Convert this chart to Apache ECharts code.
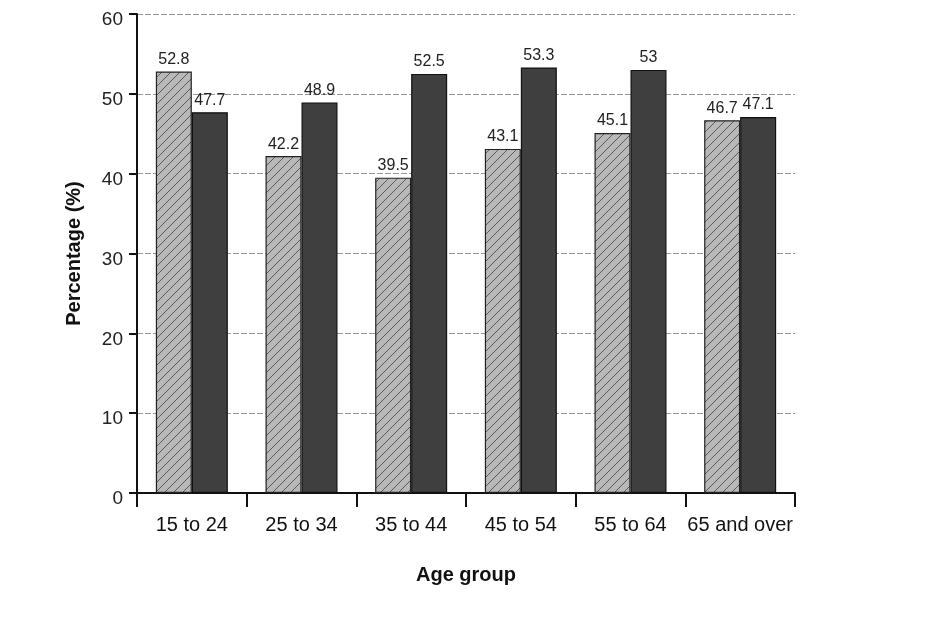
<!DOCTYPE html>
<html><head><meta charset="utf-8">
<script src="https://cdn.jsdelivr.net/npm/echarts@6/dist/echarts.min.js"></script>
<style>html,body{margin:0;padding:0;background:#fff}#c{width:930px;height:620px}</style>
</head><body><div id="c"></div>
<script>
const categories = ['15 to 24','25 to 34','35 to 44','45 to 54','55 to 64','65 and over'];
const seriesA = [52.8, 42.2, 39.5, 43.1, 45.1, 46.7];
const seriesB = [47.7, 48.9, 52.5, 53.3, 53, 47.1];

function hatch(){
  const c = document.createElement('canvas');
  c.width = 9; c.height = 9;
  const g = c.getContext('2d');
  g.fillStyle = '#b8b8b8'; g.fillRect(0,0,9,9);
  g.strokeStyle = '#5a5a5a'; g.lineWidth = 1;
  g.beginPath();
  g.moveTo(-1,10); g.lineTo(10,-1);
  g.moveTo(-6,5); g.lineTo(5,-6);
  g.moveTo(4,15); g.lineTo(15,4);
  g.stroke();
  return c;
}
const chart = echarts.init(document.getElementById('c'));
const font = 'Liberation Sans, Arial, sans-serif';
chart.setOption({
  animation:false,
  grid:{left:137,right:135,top:14,bottom:127},
  xAxis:{type:'category',data:categories,
    axisLine:{lineStyle:{color:'#111',width:2}},
    axisTick:{show:true,interval:0,alignWithLabel:false,length:14,inside:false,lineStyle:{color:'#111',width:2}},
    axisLabel:{interval:0,color:'#111',fontSize:20,fontFamily:font,margin:22},
    name:'Age group',nameLocation:'middle',nameGap:72,
    nameTextStyle:{color:'#111',fontSize:20,fontWeight:'bold',fontFamily:font}
  },
  yAxis:{type:'value',min:0,max:60,interval:10,
    axisLine:{show:true,lineStyle:{color:'#111',width:2}},
    axisTick:{show:true,length:8,lineStyle:{color:'#111',width:2}},
    axisLabel:{color:'#222',fontSize:19,fontFamily:font,margin:14,verticalAlign:'top',lineHeight:12},
    splitLine:{show:true,lineStyle:{color:'#999',type:[6,2],width:1.2}},
    name:'Percentage (%)',nameLocation:'middle',nameGap:53,
    nameTextStyle:{color:'#111',fontSize:20,fontWeight:'bold',fontFamily:font}
  },
  series:[
    {type:'bar',data:seriesA,barWidth:36,barGap:'0%',
     itemStyle:{color:{image:hatch(),repeat:'repeat'},borderColor:'#222',borderWidth:1.2},
     label:{show:true,position:'top',distance:4,color:'#222',fontSize:16,fontFamily:font}},
    {type:'bar',data:seriesB,barWidth:36,barGap:'0%',
     itemStyle:{color:'#3f3f3f',borderColor:'#111',borderWidth:1.2},
     label:{show:true,position:'top',distance:4,color:'#222',fontSize:16,fontFamily:font}}
  ]
});
</script></body></html>
